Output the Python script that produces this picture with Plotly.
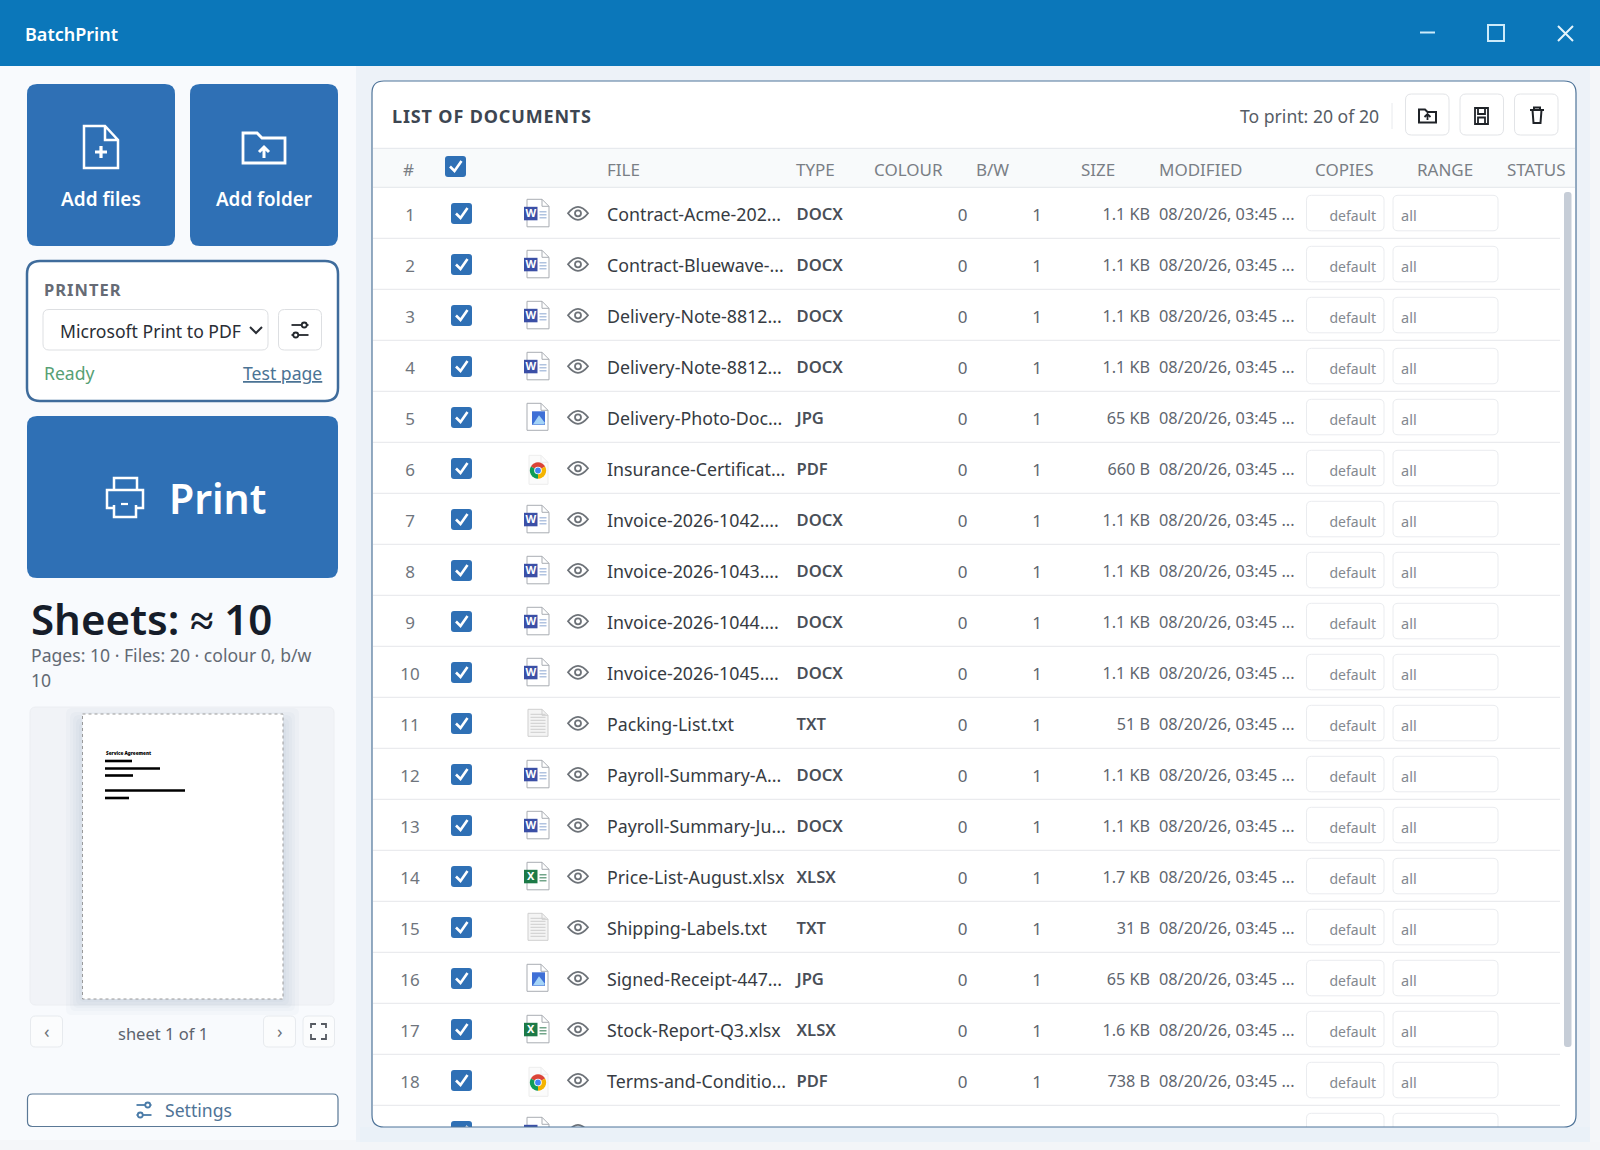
import math
import plotly.graph_objects as go

FONT = "Noto Sans"

# table contents
ROW_NUMS = [1, 2, 3, 4, 5, 6, 7, 8, 9, 10, 11, 12, 13, 14, 15, 16, 17, 18]
FILES = [
    "Contract-Acme-202...", "Contract-Bluewave-...", "Delivery-Note-8812...", "Delivery-Note-8812...",
    "Delivery-Photo-Doc...", "Insurance-Certificat...", "Invoice-2026-1042....", "Invoice-2026-1043....",
    "Invoice-2026-1044....", "Invoice-2026-1045....", "Packing-List.txt", "Payroll-Summary-A...",
    "Payroll-Summary-Ju...", "Price-List-August.xlsx", "Shipping-Labels.txt", "Signed-Receipt-447...",
    "Stock-Report-Q3.xlsx", "Terms-and-Conditio...",
]
TYPES = ["DOCX", "DOCX", "DOCX", "DOCX", "JPG", "PDF", "DOCX", "DOCX", "DOCX", "DOCX",
         "TXT", "DOCX", "DOCX", "XLSX", "TXT", "JPG", "XLSX", "PDF"]
COLOUR = [0] * 18
BW = [1] * 18
SIZES = ["1.1 KB", "1.1 KB", "1.1 KB", "1.1 KB", "65 KB", "660 B", "1.1 KB", "1.1 KB", "1.1 KB", "1.1 KB",
         "51 B", "1.1 KB", "1.1 KB", "1.7 KB", "31 B", "65 KB", "1.6 KB", "738 B"]
MODIFIED = ["08/20/26, 03:45 ..."] * 18
COPIES = ["default"] * 18
RANGES = ["all"] * 18
HEADERS = ["#", "FILE", "TYPE", "COLOUR", "B/W", "SIZE", "MODIFIED", "COPIES", "RANGE", "STATUS"]
HEADER_X = [403, 607, 796, 874, 976, 1081, 1159, 1315, 1417, 1507]

BLUE = "#2F70B5"
ROW_TOP = 187.3
ROW_H = 51

shapes = []
annotations = []


def rpath(x0, y0, x1, y1, r):
    return (f"M{x0+r},{y0} L{x1-r},{y0} Q{x1},{y0} {x1},{y0+r} L{x1},{y1-r} Q{x1},{y1} {x1-r},{y1} "
            f"L{x0+r},{y1} Q{x0},{y1} {x0},{y1-r} L{x0},{y0+r} Q{x0},{y0} {x0+r},{y0} Z")


def path(d, line=None, width=1, fill=None, layer="below"):
    shapes.append(dict(type="path", path=d, xref="x", yref="y", layer=layer,
                       fillcolor=fill or "rgba(0,0,0,0)",
                       line=dict(color=line or "rgba(0,0,0,0)", width=width if line else 0)))


def box(x0, y0, x1, y1, fill=None, line=None, width=1, r=0, layer="below"):
    if r:
        path(rpath(x0, y0, x1, y1, r), line, width, fill, layer)
    else:
        shapes.append(dict(type="rect", x0=x0, y0=y0, x1=x1, y1=y1, xref="x", yref="y", layer=layer,
                           fillcolor=fill or "rgba(0,0,0,0)",
                           line=dict(color=line or "rgba(0,0,0,0)", width=width if line else 0)))


def circle(cx, cy, r, fill=None, line=None, width=1):
    shapes.append(dict(type="circle", x0=cx-r, y0=cy-r, x1=cx+r, y1=cy+r, xref="x", yref="y", layer="below",
                       fillcolor=fill or "rgba(0,0,0,0)",
                       line=dict(color=line or "rgba(0,0,0,0)", width=width if line else 0)))


def hline(x0, x1, y, color, width=1):
    path(f"M{x0},{y} L{x1},{y}", color, width)


def label(x, y, text, size, color, anchor="left", weight=400):
    annotations.append(dict(x=x, y=y, xref="x", yref="y", text=text, showarrow=False, xanchor=anchor,
                            yanchor="middle", align=anchor, borderpad=0,
                            font=dict(family=FONT, size=size, color=color, weight=weight)))


def tune_icon(cx, cy, color, w=17):
    hline(cx-w/2, cx+w/2, cy-5, color, 1.8)
    hline(cx-w/2, cx+w/2, cy+5, color, 1.8)
    circle(cx+w/4, cy-5, 2.5, fill="white", line=color, width=1.8)
    circle(cx-w/4, cy+5, 2.5, fill="white", line=color, width=1.8)


def checkbox(x0, y0):
    box(x0, y0, x0+21, y0+21, fill=BLUE, r=3)
    path(f"M{x0+5},{y0+10.5} L{x0+9.5},{y0+15} L{x0+16.5},{y0+5}", "white", 2.6)


def doc_outline(x0, y0, x1, y1, fold, fill="white", line="#A9ADB3"):
    path(f"M{x0},{y0} L{x1-fold},{y0} L{x1},{y0+fold} L{x1},{y1} L{x0},{y1} Z", line, 1, fill)
    path(f"M{x1-fold},{y0} L{x1-fold},{y0+fold} L{x1},{y0+fold}", line, 1)


def file_icon(kind, top):
    if kind in ("DOCX", "XLSX"):
        color = "#3B4FA6" if kind == "DOCX" else "#1C7A47"
        lines = "#9DB4D8" if kind == "DOCX" else "#4E8F6C"
        doc_outline(527, top+12, 549, top+39.5, 7)
        for dy in (24.5, 27.5, 30.5):
            hline(539.5, 546.5, top+dy, lines, 1.2)
        box(524, top+19.5, 537.5, top+33, fill=color)
    elif kind == "JPG":
        doc_outline(527, top+12, 548, top+39, 7)
        box(532, top+20, 545, top+33.5, fill="#3E6FD6")
        path(f"M533,{top+33} L539,{top+24} L544.5,{top+31} L544.5,{top+33} Z", fill="#A5D4F7")
    elif kind == "TXT":
        doc_outline(528, top+12, 548, top+39, 6, fill="#F4F4F4", line="#CFCFCF")
        for dy in range(17, 37, 3):
            hline(530.5, 545.5, top+dy, "#CDCDCD", 1)
    elif kind == "PDF":
        doc_outline(529, top+13, 548, top+42, 7, fill="#FBFBFB", line="#EDEDED")
        cx, cy, r = 538, top+28.2, 8.2
        for start, end, color in ((-150, -30, "#DB4437"), (-30, 90, "#F4B400"), (90, 210, "#0F9D58")):
            pts = [(cx+r*math.cos(math.radians(a)), cy+r*math.sin(math.radians(a)))
                   for a in range(start, end+1, 15)]
            path(f"M{cx},{cy} " + " ".join(f"L{px:.1f},{py:.1f}" for px, py in pts) + " Z", fill=color)
        circle(cx, cy, 3.8, fill="white")
        circle(cx, cy, 2.9, fill="#4285F4")


def eye(cy):
    cx = 578
    path(f"M{cx-10},{cy} Q{cx},{cy-13} {cx+10},{cy} Q{cx},{cy+13} {cx-10},{cy} Z", "#6D7278", 1.8)
    circle(cx, cy, 3, line="#6D7278", width=1.8)


# ---- window chrome and backgrounds
box(0, 0, 1600, 1150, fill="#F4F6F9")
box(356, 66, 1590, 1142, fill="#EDF2F8")
box(0, 66, 356, 1140, fill="#F8FAFD")
box(0, 0, 1600, 66, fill="#0B77BA")
label(24, 34, "BatchPrint", 18, "white", weight=600)
hline(1420, 1435, 32.5, "#CDEBFA", 2)
box(1488, 25, 1504, 41, line="#CDEBFA", width=2)
path("M1558,26 L1573,41 M1573,26 L1558,41", "#E4F4FC", 2)

# ---- add buttons
box(27, 84, 175, 246, fill=BLUE, r=10)
box(190, 84, 338, 246, fill=BLUE, r=10)
path("M84,126 L105,126 L118,140 L118,168 L84,168 Z M105,126 L105,140 L118,140", "white", 2.5)
path("M101,146 L101,158 M95,152 L107,152", "white", 3.2)
label(101, 199, "Add files", 19, "white", "center", 600)
path("M243,133 L257,133 L262,138 L285,138 L285,163 L243,163 Z", "white", 2.8)
path("M264,158 L264,147 M259,152 L264,147 L269,152", "white", 3)
label(264, 199, "Add folder", 18.8, "white", "center", 600)

# ---- printer card
box(27, 261, 338, 401, fill="white", line="#3F6C9C", width=2.5, r=13)
label(43, 289.5, "PRINTER", 16.5, "#666B75", weight=700)
box(43, 309.5, 268, 350, fill="white", line="#DDDFE2", r=6)
label(59, 330.5, "Microsoft Print to PDF", 17.6, "#2A2E35")
path("M250,327 L256,333 L262,327", "#2A2E35", 2)
box(278.5, 309.5, 321.5, 350, fill="white", line="#DDDFE2", r=6)
tune_icon(300, 330, "#23272C")
label(43, 372.5, "Ready", 17.6, "#57A074")
label(322.5, 372.5, "<u>Test page</u>", 17.6, "#4B7394", "right")

# ---- print button
box(27, 416, 338, 578, fill=BLUE, r=10)
path("M114,490 L114,478 L137,478 L137,490", "white", 2.5)
path("M114,508 L107,508 L107,490 L143,490 L143,508 L136,508", "white", 2.5)
path("M114,505 L114,517 L136,517 L136,505", "white", 2.5)
path("M121,504 L128,504", "white", 2.2)
label(167.5, 498, "Print", 41, "white", weight=600)

# ---- sheets
label(29.5, 618, "Sheets: ≈ 10", 42, "#161D2A", weight=600)
label(29.5, 654.5, "Pages: 10 · Files: 20 · colour 0, b/w", 17.6, "#626973")
label(29.5, 680, "10", 17.6, "#626973")

# ---- preview
box(30, 707, 334, 1005, fill="#F1F3F7", line="#ECEEF2", r=6)
for grow in (16, 12, 9, 6, 3):
    box(82-grow, 724-grow, 283+grow, 999+grow, fill="rgba(90,105,130,0.028)", r=6)
box(82.5, 714, 283, 999, fill="white")
shapes.append(dict(type="rect", x0=82.5, y0=714, x1=283, y1=999, xref="x", yref="y", layer="below",
                   line=dict(color="#9A9A9A", width=1, dash="dot")))
label(105, 753, "Service Agreement", 4.6, "#000000", weight=900)
hline(105, 132, 761, "#000000", 2.6)
hline(105, 160, 768.5, "#000000", 2.6)
hline(105, 133, 775.5, "#000000", 2.6)
hline(105, 185, 790.5, "#000000", 2.6)
hline(105, 129, 798, "#000000", 2.6)

box(30.5, 1016, 62.5, 1047, fill="#FBFCFD", line="#E7EAEE", r=5)
label(46.5, 1031, "‹", 18, "#6D7278", "center")
label(162.5, 1033, "sheet 1 of 1", 16.5, "#5C636E", "center")
box(263.5, 1016, 295.5, 1047, fill="#FBFCFD", line="#E7EAEE", r=5)
label(279.5, 1031, "›", 18, "#6D7278", "center")
box(303, 1016, 334.5, 1047, fill="#FBFCFD", line="#E7EAEE", r=5)
path("M311,1028 L311,1024 L316,1024 M321,1024 L326,1024 L326,1028 M326,1034 L326,1039 L321,1039 "
     "M316,1039 L311,1039 L311,1034", "#555A62", 1.8)

box(27.5, 1094, 338, 1126.5, fill="white", line="#5A7896", width=1.2, r=5)
tune_icon(144, 1110, "#4A7BA8", 15)
label(164, 1110, "Settings", 17.6, "#4F7396")

# ---- documents panel
box(372, 81, 1576, 1127, fill="white", r=12)
label(390.5, 116, "LIST OF DOCUMENTS", 18, "#3D4652", weight=700)
label(1239, 116, "To print: 20 of 20", 17.6, "#565C65")
path("M1392,103 L1392,129", "#E8EAED", 1)
for x0 in (1405.5, 1460, 1514.5):
    box(x0, 94, x0+43.5, 135, fill="white", line="#E2E4E7", r=6)
path("M1419,122.5 L1419,109.5 L1425,109.5 L1427.5,112 L1436,112 L1436,122.5 Z", "#1F2328", 2)
path("M1427.5,120 L1427.5,114.5 M1424.5,117 L1427.5,114 L1430.5,117", "#1F2328", 1.8)
path("M1475,108 L1488,108 L1488,124 L1475,124 Z M1478,108 L1478,114 L1485,114 L1485,108 "
     "M1478,124 L1478,117.5 L1485,117.5 L1485,124", "#1F2328", 1.8)
path("M1530,110 L1544,110 M1534,110 L1534,107.5 L1540,107.5 L1540,110 "
     "M1532.5,110 L1533.5,123 L1540.5,123 L1541.5,110", "#1F2328", 2)

box(373, 148.3, 1575, ROW_TOP, fill="#F8FAFB")
hline(373, 1575, 148.3, "#E3E6EA")
hline(373, 1575, ROW_TOP, "#E3E6EA")
checkbox(445, 156)

# rows, including the 19th that is cut off by the panel bottom
row_tops = [ROW_TOP + ROW_H * i for i in range(len(FILES))]
for top, kind in zip(row_tops + [ROW_TOP + ROW_H * len(FILES)], TYPES + ["DOCX"]):
    hline(373, 1560, top + ROW_H, "#E5E7EA")
    checkbox(451, top + 15.7)
    file_icon(kind, top)
    eye(top + 26)
    box(1306.5, top + 8, 1384, top + 43.5, fill="white", line="#EAECEF", r=5)
    box(1393, top + 8, 1498, top + 43.5, fill="white", line="#EAECEF", r=5)

box(1564, 192, 1571.5, 1047, fill="#C6CDD7", r=3)

# cover whatever runs below the panel, then the border on top
box(360, 1127, 1590, 1142, fill="#EAF1F8", layer="above")
box(360, 1142, 1600, 1150, fill="#F3F5F8", layer="above")
box(372, 81, 1576, 1127, line="#4F7499", width=1.2, r=12, layer="above")

fig = go.Figure()


def text_col(x, ys, texts, size, color, pos, weight=400):
    fig.add_trace(go.Scatter(
        x=[x] * len(ys), y=ys, text=texts, mode="text", textposition=pos,
        textfont=dict(family=FONT, size=size, color=color, weight=weight),
        hoverinfo="skip", showlegend=False,
    ))


centers = [t + 29 for t in row_tops]
input_centers = [t + 30 for t in row_tops]
text_col(410, centers, ROW_NUMS, 17, "#6F757D", "middle center")
text_col(607, centers, FILES, 17.8, "#363B42", "middle right")
text_col(796.5, centers, TYPES, 16.6, "#4A4F58", "middle right", 600)
text_col(962.5, centers, COLOUR, 17, "#5F666F", "middle center")
text_col(1037, centers, BW, 17, "#5F666F", "middle center")
text_col(1150, centers, SIZES, 16.2, "#5F666F", "middle left")
text_col(1159, centers, MODIFIED, 16.3, "#5F666F", "middle right")
text_col(1376, input_centers, COPIES, 14, "#83888F", "middle left")
text_col(1401, input_centers, RANGES, 14.5, "#83888F", "middle right")
text_col(0, [172] * len(HEADERS), HEADERS, 17, "#7A7F86", "middle right")
fig.data[-1].x = HEADER_X

# letters on the office icons
for kind, letter in (("DOCX", "W"), ("XLSX", "X")):
    ys = [t + 26.5 for t, k in zip(row_tops, TYPES) if k == kind]
    text_col(530.8, ys, [letter] * len(ys), 11, "white", "middle center", 700)

fig.update_layout(
    width=1600, height=1150, autosize=False,
    margin=dict(l=0, r=0, t=0, b=0, pad=0),
    paper_bgcolor="#F4F6F9", plot_bgcolor="rgba(0,0,0,0)",
    xaxis=dict(range=[0, 1600], visible=False, fixedrange=True),
    yaxis=dict(range=[1150, 0], visible=False, fixedrange=True),
    hovermode=False, showlegend=False,
    shapes=shapes, annotations=annotations,
)

# letter spacing on the two small caps titles, plotly has no option for it
post = """
document.body.style.margin='0';
document.body.style.overflow='hidden';
document.querySelectorAll('.annotation-text').forEach(function (t) {
  if (t.textContent === 'LIST OF DOCUMENTS') t.style.letterSpacing = '0.85px';
  if (t.textContent === 'PRINTER') t.style.letterSpacing = '1px';
});
"""
fig.write_html("out.html", config=dict(displayModeBar=False), post_script=post)
